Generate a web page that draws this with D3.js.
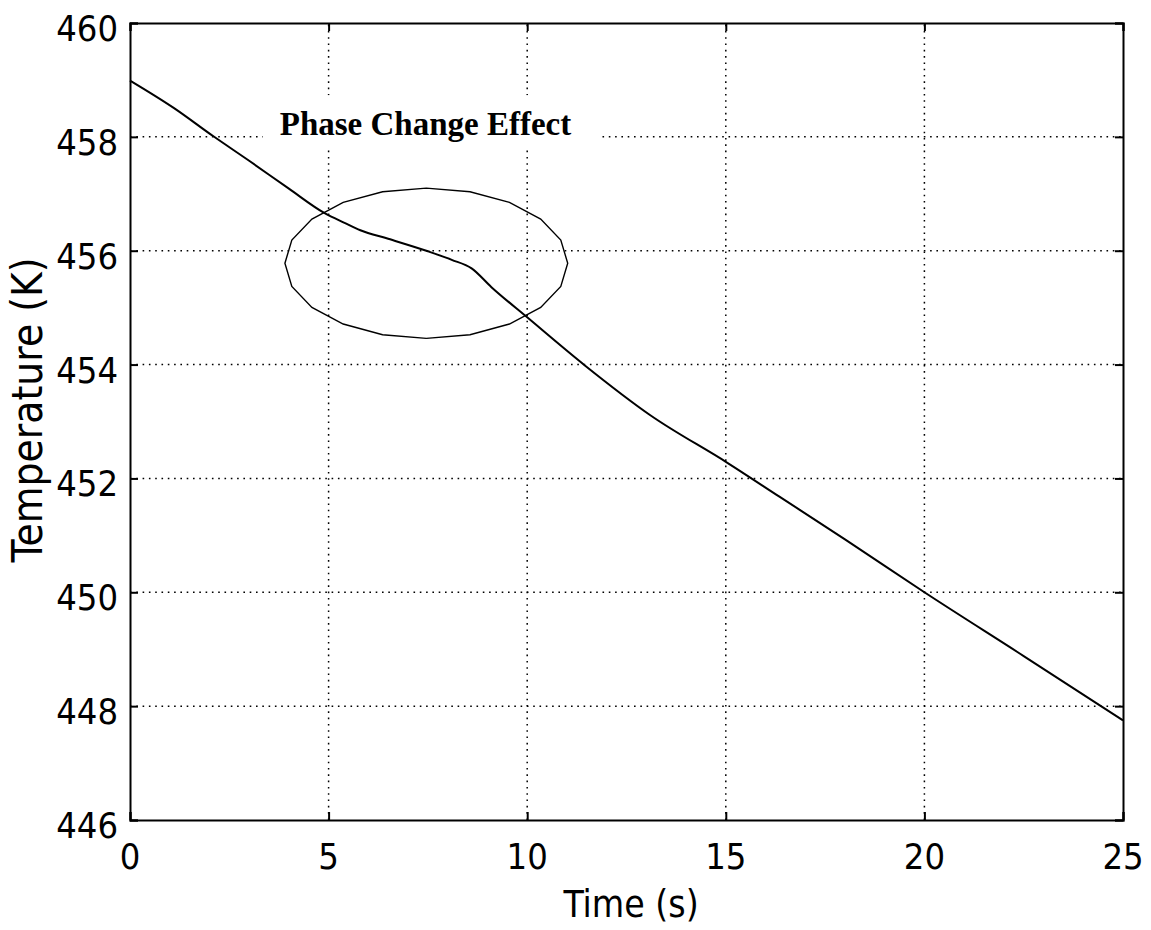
<!DOCTYPE html>
<html>
<head>
<meta charset="utf-8">
<script src="https://cdn.jsdelivr.net/npm/d3@7"></script>
<style>
  html, body { margin: 0; padding: 0; background: #fff; }
  svg { display: block; }
  .tick-label { font-family: "DejaVu Sans Condensed", "DejaVu Sans", sans-serif; font-stretch: condensed; }
</style>
</head>
<body>
<svg id="chart" width="1151" height="930"></svg>
<script>
// ---- data ----
const timeValues = [0, 1.1, 2.1, 3, 4, 4.9, 5.4, 5.8, 6.5, 7.5, 8.1, 8.6, 9.1, 10, 11.46, 13.1, 15.05, 16.35, 18, 20, 22.5, 25];
const tempValues = [458.99, 458.51, 458.01, 457.58, 457.09, 456.66, 456.49, 456.36, 456.21, 455.99, 455.84, 455.69, 455.36, 454.83, 453.98, 453.11, 452.27, 451.68, 450.93, 450.0, 448.88, 447.75];
const xTicks = [0, 5, 10, 15, 20, 25];
const yTicks = [446, 448, 450, 452, 454, 456, 458, 460];
const xDomain = [0, 25];
const yDomain = [446, 460];
const xTitle = "Time (s)";
const yTitle = "Temperature (K)";
const annotationText = "Phase Change Effect";
const annotationPos = [3.77, 458.03];      // [time, temperature] of text start
const ellipseCenter = [7.46, 455.78];       // [time, temperature]
const ellipseRadii = [3.56, 1.32];          // [seconds, kelvin]

// ---- layout ----
const svg = d3.select("#chart");
const x = d3.scaleLinear().domain(xDomain).range([130, 1123]);
const y = d3.scaleLinear().domain(yDomain).range([820, 23]);
const fontStack = '"DejaVu Sans Condensed", "DejaVu Sans", sans-serif';

// grid (dotted)
const grid = svg.append("g").attr("stroke", "#000").attr("stroke-width", 1.5)
  .attr("stroke-dasharray", "1.6,4.7").attr("fill", "none");
grid.selectAll("line.v").data(xTicks.slice(1, -1)).join("line")
  .attr("x1", d => x(d)).attr("x2", d => x(d))
  .attr("y1", y(yDomain[0])).attr("y2", y(yDomain[1]));
grid.selectAll("line.h").data(yTicks.slice(1, -1)).join("line")
  .attr("x1", x(xDomain[0])).attr("x2", x(xDomain[1]))
  .attr("y1", d => y(d)).attr("y2", d => y(d));

// annotation text with white background
const ann = svg.append("g");
const annRect = ann.append("rect").attr("fill", "#fff");
const annText = ann.append("text")
  .attr("x", x(annotationPos[0])).attr("y", y(annotationPos[1]))
  .attr("font-family", '"Liberation Serif", "Times New Roman", serif')
  .attr("font-weight", "bold").attr("font-size", 33)
  .attr("fill", "#000")
  .text(annotationText);
const bb = annText.node().getBBox();
annRect.attr("x", bb.x - 17).attr("y", bb.y - 11)
  .attr("width", bb.width + 44).attr("height", bb.height + 17);

// ellipse (polygonal outline)
const nVert = 20;
const ellPts = d3.range(nVert + 1).map(i => {
  const a = -Math.PI / 2 + i * 2 * Math.PI / nVert;
  return [ellipseCenter[0] + ellipseRadii[0] * Math.cos(a), ellipseCenter[1] + ellipseRadii[1] * Math.sin(a)];
});
svg.append("path")
  .attr("d", d3.line().x(d => x(d[0])).y(d => y(d[1]))(ellPts))
  .attr("fill", "none").attr("stroke", "#000").attr("stroke-width", 1.4);

// data curve
const pts = timeValues.map((t, i) => [t, tempValues[i]]);
svg.append("path")
  .attr("d", d3.line().x(d => x(d[0])).y(d => y(d[1])).curve(d3.curveMonotoneX)(pts))
  .attr("fill", "none").attr("stroke", "#000").attr("stroke-width", 2);

// axes frame with inward ticks
const frame = svg.append("g");
frame.append("g").attr("transform", `translate(0,${y(yDomain[0])})`)
  .call(d3.axisBottom(x).tickValues(xTicks).tickSize(-8).tickFormat(""));
frame.append("g").attr("transform", `translate(0,${y(yDomain[1])})`)
  .call(d3.axisTop(x).tickValues(xTicks).tickSize(-8).tickFormat(""));
frame.append("g").attr("transform", `translate(${x(xDomain[0])},0)`)
  .call(d3.axisLeft(y).tickValues(yTicks).tickSize(-8).tickFormat(""));
frame.append("g").attr("transform", `translate(${x(xDomain[1])},0)`)
  .call(d3.axisRight(y).tickValues(yTicks).tickSize(-8).tickFormat(""));
frame.selectAll(".domain").attr("stroke", "#000").attr("stroke-width", 2);
frame.selectAll(".tick line").attr("stroke", "#000").attr("stroke-width", 2);

// tick labels
svg.append("g").selectAll("text").data(xTicks).join("text")
  .attr("class", "tick-label")
  .attr("x", d => x(d)).attr("y", y(yDomain[0]) + 49)
  .attr("text-anchor", "middle").attr("font-size", 36).attr("fill", "#000")
  .attr("font-family", fontStack)
  .text(d => d);
svg.append("g").selectAll("text").data(yTicks).join("text")
  .attr("class", "tick-label")
  .attr("x", x(xDomain[0]) - 12).attr("y", d => y(d) + 18)
  .attr("text-anchor", "end").attr("font-size", 36).attr("fill", "#000")
  .attr("font-family", fontStack)
  .text(d => d);

// axis titles
svg.append("text").attr("class", "tick-label")
  .attr("x", 631).attr("y", 917)
  .attr("text-anchor", "middle").attr("font-size", 37).attr("fill", "#000")
  .attr("font-family", fontStack)
  .text(xTitle);
svg.append("text").attr("class", "tick-label")
  .attr("transform", "translate(42,410) rotate(-90)")
  .attr("text-anchor", "middle").attr("font-size", 42).attr("fill", "#000")
  .attr("font-family", fontStack)
  .text(yTitle);
</script>
</body>
</html>
